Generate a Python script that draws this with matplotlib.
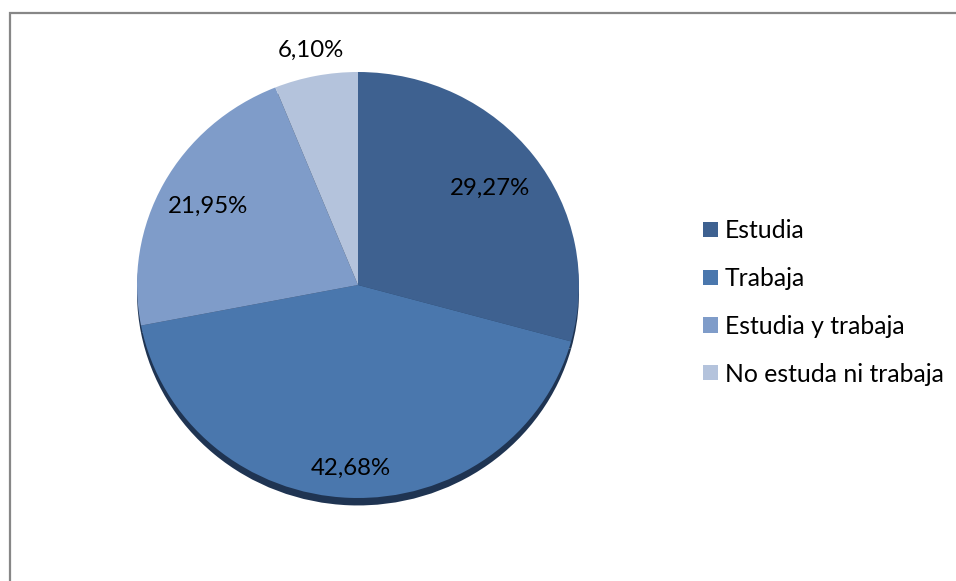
import numpy as np
import matplotlib.pyplot as plt
from matplotlib.patches import Rectangle

plt.rcParams["font.family"] = ["Lato", "DejaVu Sans"]

categorias = ["Estudia", "Trabaja", "Estudia y trabaja", "No estuda ni trabaja"]
porcentajes = [29.27, 42.68, 21.95, 6.10]
colores = ["#3e6190", "#4a77ad", "#7f9cc9", "#b4c3dc"]
# distancia de cada etiqueta al centro (fracción del radio)
dist_etiquetas = [0.75, 0.86, 0.77, 1.12]

W, H = 956, 581
fig = plt.figure(figsize=(W / 100, H / 100), dpi=100)

# marco del gráfico
fig.patches.append(Rectangle((10 / W, -0.1), 1.2, 1.1 - 13 / H,
                             transform=fig.transFigure, fill=False,
                             edgecolor="#878787", linewidth=1.6))

# área del pastel en píxeles
cx, cy, rx, ry = 358, 285, 221, 213
ax = fig.add_axes([(cx - rx) / W, (H - cy - ry) / H, 2 * rx / W, 2 * ry / H])

# sombra inferior
ax.pie(porcentajes, colors=["#1f3452"] * 4, startangle=90, counterclock=False,
       center=(0, -0.035), wedgeprops=dict(linewidth=0))

wedges, _, textos = ax.pie(porcentajes, colors=colores, startangle=90,
                           counterclock=False, autopct="%.2f%%",
                           wedgeprops=dict(linewidth=0),
                           textprops=dict(fontsize=17.3, color="black"))

for w, t, val, d in zip(wedges, textos, porcentajes, dist_etiquetas):
    ang = np.deg2rad((w.theta1 + w.theta2) / 2)
    t.set_position((d * np.cos(ang), d * np.sin(ang)))
    t.set_text(f"{val:.2f}%".replace(".", ","))

ax.set_aspect("auto")
ax.set_xlim(-1, 1)
ax.set_ylim(-1, 1)
ax.axis("off")

fig.legend(wedges, categorias, loc="upper left",
           bbox_to_anchor=(691 / W, 1 - 207 / H), frameon=False,
           fontsize=17.8, handlelength=0.58, handleheight=0.58,
           handletextpad=0.28, labelspacing=1.0, borderpad=0)

plt.savefig("out.png", dpi=100)
